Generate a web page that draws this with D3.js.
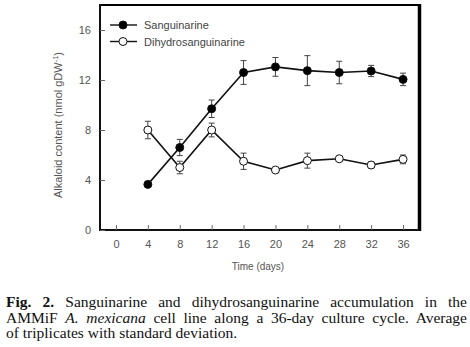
<!DOCTYPE html>
<html lang="en">
<head>
<meta charset="UTF-8">
<script src="https://d3js.org/d3.v7.min.js"></script>
<style>
  body { margin: 0; background: #fff; }
  #plot { position: absolute; left: 0; top: 0; width: 470px; height: 347px; }
  .caption {
    position: absolute; left: 6px; top: 294px; width: 461px;
    font-family: "Liberation Serif", "Times New Roman", serif;
    font-size: 15.5px; line-height: 15.5px; color: #111;
  }
  .caption div { text-align: justify; text-align-last: justify; white-space: nowrap; }
  .caption div.last { text-align-last: left; }
</style>
</head>
<body>
<div id="plot"></div>
<div class="caption">
  <div><b>Fig. 2.</b> Sanguinarine and dihydrosanguinarine accumulation in the</div>
  <div>AMMiF <i>A. mexicana</i> cell line along a 36-day culture cycle. Average</div>
  <div class="last">of triplicates with standard deviation.</div>
</div>
<script>
  // data
  const days = [4, 8, 12, 16, 20, 24, 28, 32, 36];
  const sanguinarine = [3.65, 6.6, 9.7, 12.6, 13.05, 12.75, 12.6, 12.72, 12.05];
  const sanguinarineSd = [0, 0.65, 0.7, 0.95, 0.75, 1.2, 0.9, 0.45, 0.5];
  const dihydro = [8.0, 5.0, 8.0, 5.5, 4.8, 5.55, 5.7, 5.2, 5.65];
  const dihydroSd = [0.7, 0.5, 0.55, 0.65, 0.15, 0.6, 0.1, 0.25, 0.35];
  const xTicks = [0, 4, 8, 12, 16, 20, 24, 28, 32, 36];
  const yTicks = [0, 4, 8, 12, 16];

  const width = 470, height = 290;
  const svg = d3.select("#plot").append("svg")
      .attr("width", width).attr("height", height);

  const x = d3.scaleLinear().domain([-2, 38]).range([100, 419]);
  const y = d3.scaleLinear().domain([0, 18]).range([230, 5]);

  const series = [
    {name: "Sanguinarine", vals: sanguinarine, sd: sanguinarineSd, fill: "#000"},
    {name: "Dihydrosanguinarine", vals: dihydro, sd: dihydroSd, fill: "#fff"}
  ];

  // frame (top and right)
  svg.append("line").attr("x1", 100).attr("x2", 420).attr("y1", 5).attr("y2", 5)
    .attr("stroke", "#000").attr("stroke-width", 2);
  svg.append("line").attr("x1", 419.5).attr("x2", 419.5).attr("y1", 4).attr("y2", 231)
    .attr("stroke", "#000").attr("stroke-width", 3.5);

  // axes, ticks pointing inward
  const xAxis = svg.append("g").attr("transform", "translate(0,230)")
    .call(d3.axisBottom(x).tickValues(xTicks).tickSize(-5).tickPadding(10));
  const yAxis = svg.append("g").attr("transform", "translate(100,0)")
    .call(d3.axisLeft(y).tickValues(yTicks).tickSize(-5).tickPadding(9));
  [xAxis, yAxis].forEach(g => {
    g.select(".domain").attr("stroke", "#111").attr("stroke-width", 2);
    g.selectAll(".tick line").attr("stroke", "#666");
    g.selectAll(".tick text").attr("fill", "#555")
      .style("font-family", "Liberation Sans, Arial, sans-serif").style("font-size", "11px");
  });
  xAxis.select(".domain").attr("d", "M100,0H420");
  yAxis.select(".domain").attr("d", "M0,4V231");

  svg.append("text").attr("x", 258).attr("y", 270).attr("text-anchor", "middle")
    .attr("fill", "#555").style("font-family", "Liberation Sans, Arial, sans-serif")
    .style("font-size", "10px").text("Time (days)");

  const ylab = svg.append("text").attr("transform", "translate(62,125) rotate(-90)")
    .attr("text-anchor", "middle").attr("fill", "#555")
    .style("font-family", "Liberation Sans, Arial, sans-serif").style("font-size", "11px");
  ylab.append("tspan").text("Alkaloid content (nmol gDW");
  ylab.append("tspan").attr("dy", -4).style("font-size", "7.5px").text("-1");
  ylab.append("tspan").attr("dy", 4).text(")");

  const line = d3.line().x((d, i) => x(days[i])).y(d => y(d));

  series.forEach(s => {
    const g = svg.append("g");
    g.append("path").attr("d", line(s.vals)).attr("fill", "none")
      .attr("stroke", "#111").attr("stroke-width", 1.6);
    days.forEach((d, i) => {
      if (!s.sd[i]) return;
      const cx = x(d), y1 = y(s.vals[i] + s.sd[i]), y2 = y(s.vals[i] - s.sd[i]);
      g.append("line").attr("x1", cx).attr("x2", cx).attr("y1", y1).attr("y2", y2)
        .attr("stroke", "#444").attr("stroke-width", 1);
      [y1, y2].forEach(yy => g.append("line").attr("x1", cx - 3).attr("x2", cx + 3)
        .attr("y1", yy).attr("y2", yy).attr("stroke", "#444").attr("stroke-width", 1));
    });
    g.selectAll("circle").data(s.vals).join("circle")
      .attr("cx", (d, i) => x(days[i])).attr("cy", d => y(d)).attr("r", 4)
      .attr("fill", s.fill).attr("stroke", "#111").attr("stroke-width", 1);
  });

  // legend
  series.forEach((s, i) => {
    const ly = 25 + i * 16.5;
    svg.append("line").attr("x1", 110).attr("x2", 137).attr("y1", ly).attr("y2", ly)
      .attr("stroke", "#111").attr("stroke-width", 1.4);
    svg.append("circle").attr("cx", 123).attr("cy", ly).attr("r", 4)
      .attr("fill", s.fill).attr("stroke", "#111");
    svg.append("text").attr("x", 144).attr("y", ly + 4).attr("fill", "#444")
      .style("font-family", "Liberation Sans, Arial, sans-serif").style("font-size", "11px")
      .text(s.name);
  });
</script>
</body>
</html>
